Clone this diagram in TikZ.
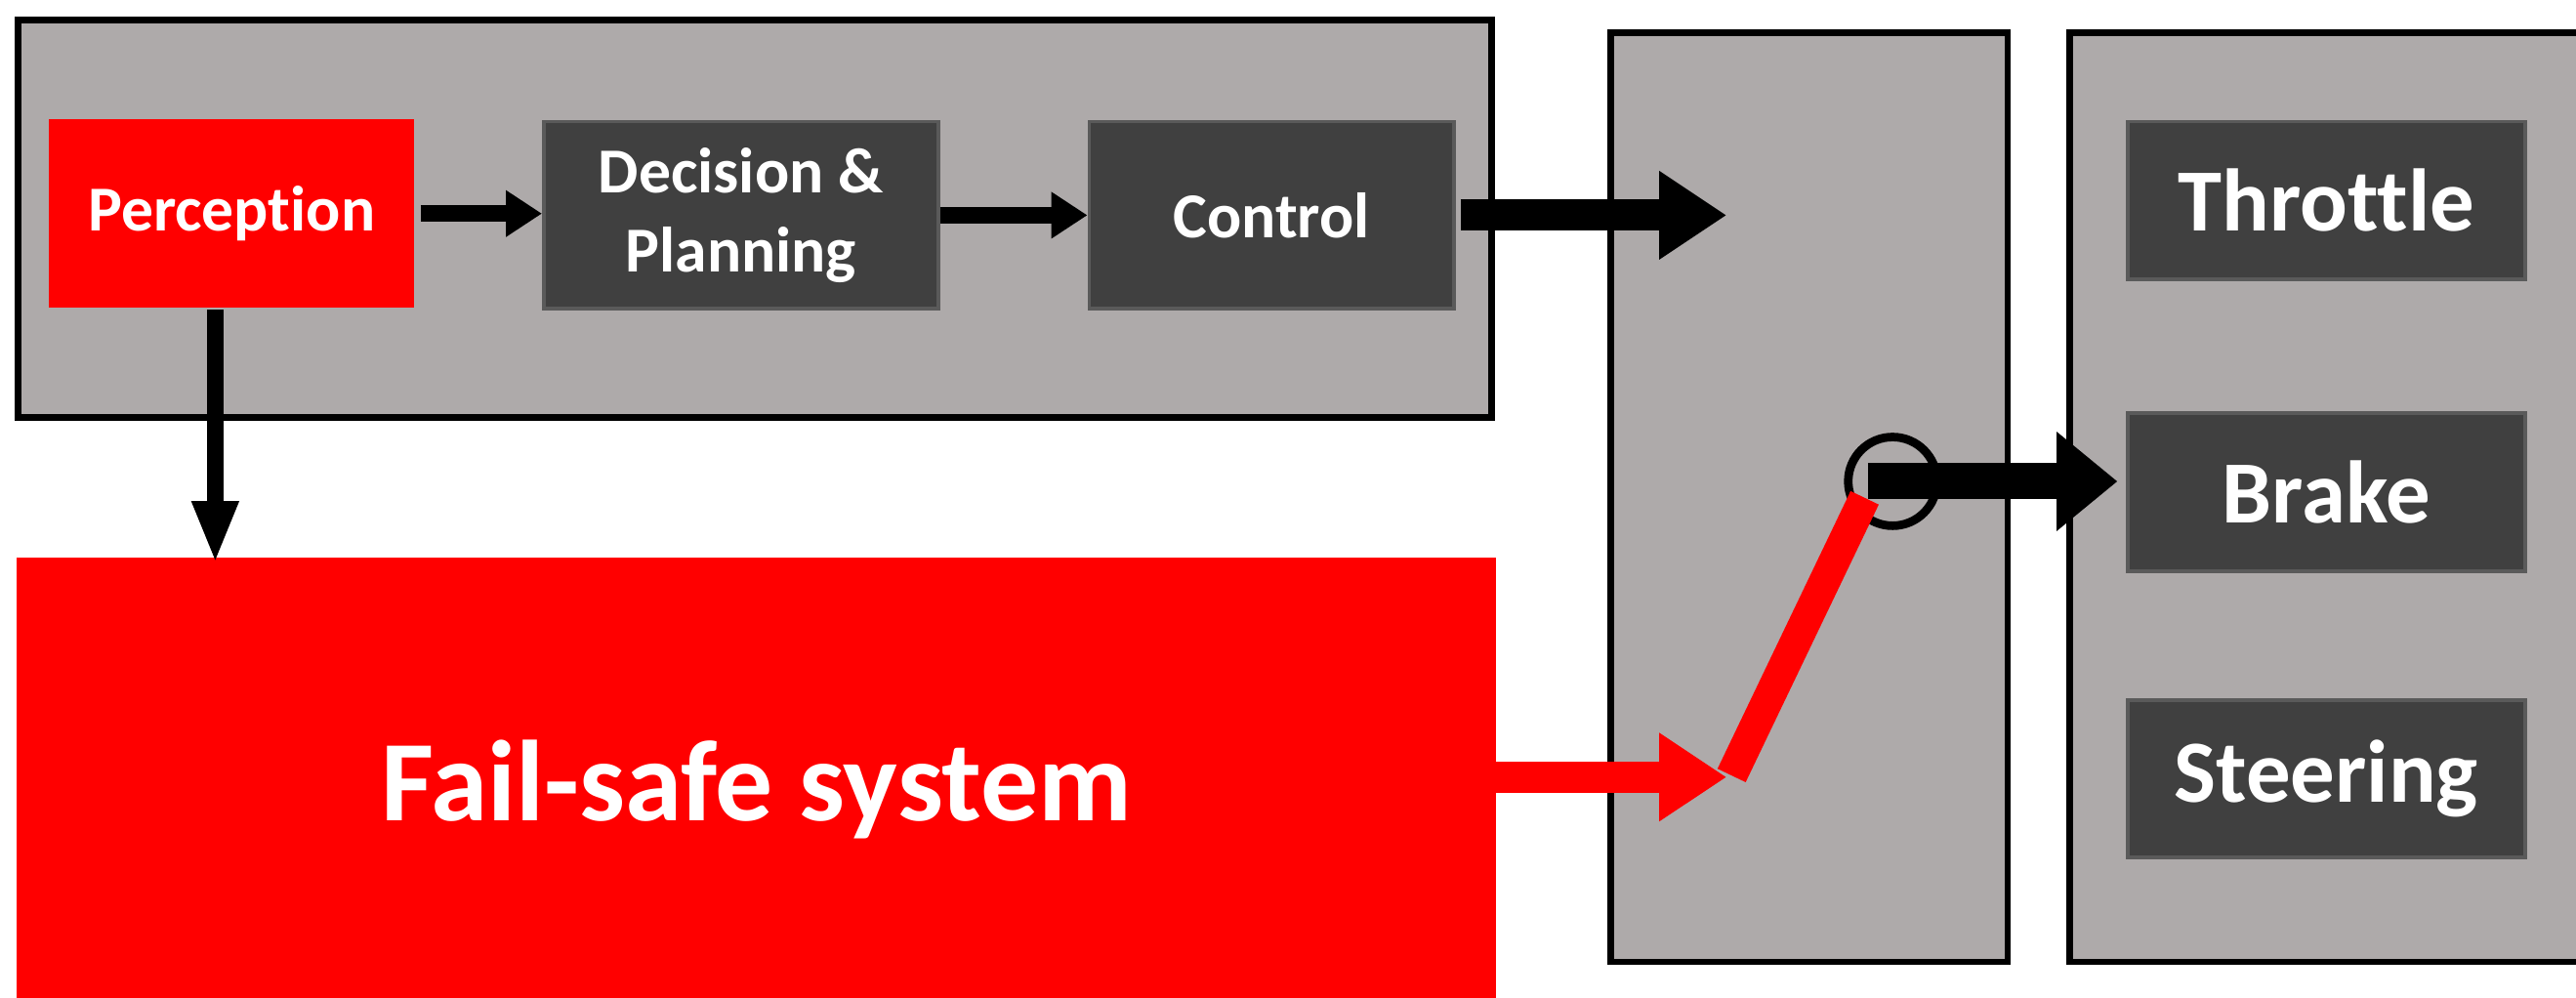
\documentclass[tikz,border=0pt]{standalone}
\usepackage{fontspec}
\setmainfont{Carlito}[Ligatures={NoCommon,NoRequired,NoContextual}]
\usepackage{tikz}
\usetikzlibrary{arrows.meta}
\definecolor{panel}{HTML}{AEAAAA}
\definecolor{block}{HTML}{404040}
\definecolor{blockedge}{HTML}{5A5A5A}
\definecolor{alarm}{HTML}{FF0000}
\tikzset{
  panelbox/.style={draw=black, fill=panel, line width=2pt},
  unit/.style={fill=block, draw=blockedge, line width=1.1pt, text=white, align=center,
    font=\bfseries\fontsize{19.5}{24}\selectfont, minimum width=120pt, minimum height=57pt, inner sep=0pt},
  actuator/.style={unit, font=\bfseries\fontsize{27}{32}\selectfont, minimum width=121pt, minimum height=48pt},
  failbox/.style={fill=alarm, text=white, font=\bfseries\fontsize{35}{42}\selectfont, inner sep=0pt},
  flow/.style={draw=black, line width=5pt, -{Triangle[length=11pt, width=13.5pt]}},
  downflow/.style={draw=black, line width=5pt, -{Triangle[length=19pt, width=13pt]}},
  bigflow/.style={draw=black, line width=9.5pt, -{Triangle[length=20.5pt, width=25.5pt]}},
  brakeflow/.style={draw=black, line width=11pt, -{Triangle[length=18.5pt, width=29pt]}},
  redflow/.style={draw=alarm, line width=9.5pt, -{Triangle[length=20.5pt, width=25.5pt]}},
  lever/.style={draw=alarm, line width=9.5pt},
  hinge/.style={draw=black, line width=2.6pt},
}

\begin{document}
\begin{tikzpicture}[x=0.5pt, y=-0.5pt]
  \useasboundingbox (0,0) rectangle (1568,607);

  % panels
  \draw[panelbox] (11,12) rectangle (908,254);
  \draw[panelbox] (980.5,20) rectangle (1222,585.5);
  \draw[panelbox] (1260,20) rectangle (1600,585.5);

  % processing chain
  \node[unit, fill=alarm, draw=none, minimum width=111pt, minimum height=57.5pt] (perc) at (141,130) {Perception};
  \node[unit] (plan) at (451,131) {Decision \&\\Planning};
  \node[unit, minimum width=111pt] (ctrl) at (774,131) {Control};

  % actuators
  \node[actuator] (throttle) at (1416,122) {Throttle};
  \node[actuator] (brake) at (1416,299.5) {Brake};
  \node[actuator] (steer) at (1416,474) {Steering};

  % fail-safe
  \node[failbox, anchor=north west, minimum width=450pt, minimum height=141pt] (fail) at (10,339) {Fail-safe system};

  % switch
  \coordinate (swin) at (1051,131);
  \coordinate (swfail) at (1051,473);
  \coordinate (pivot) at (1152,293);
  \coordinate (leverlo) at (1054,472);
  \coordinate (leverhi) at (1135,303);

  \draw[flow] ([xshift=1.5pt]perc.east) -- (perc.east -| plan.west);
  \draw[flow] (plan.east) -- (ctrl.west);
  \draw[bigflow] ([xshift=1.5pt]ctrl.east) -- (swin);
  \draw[downflow, shorten >=-2pt] ([xshift=-5pt]perc.south) -- ([xshift=-5pt]perc.south |- fail.north);
  \draw[redflow] (fail.east |- swfail) -- (swfail);

  \draw[hinge] (pivot) circle[radius=27];
  \draw[lever] (leverlo) -- (leverhi);
  \draw[brakeflow, shorten >=2.5pt] ([xshift=-7.5pt]pivot) -- (pivot -| brake.west);
\end{tikzpicture}
\end{document}
